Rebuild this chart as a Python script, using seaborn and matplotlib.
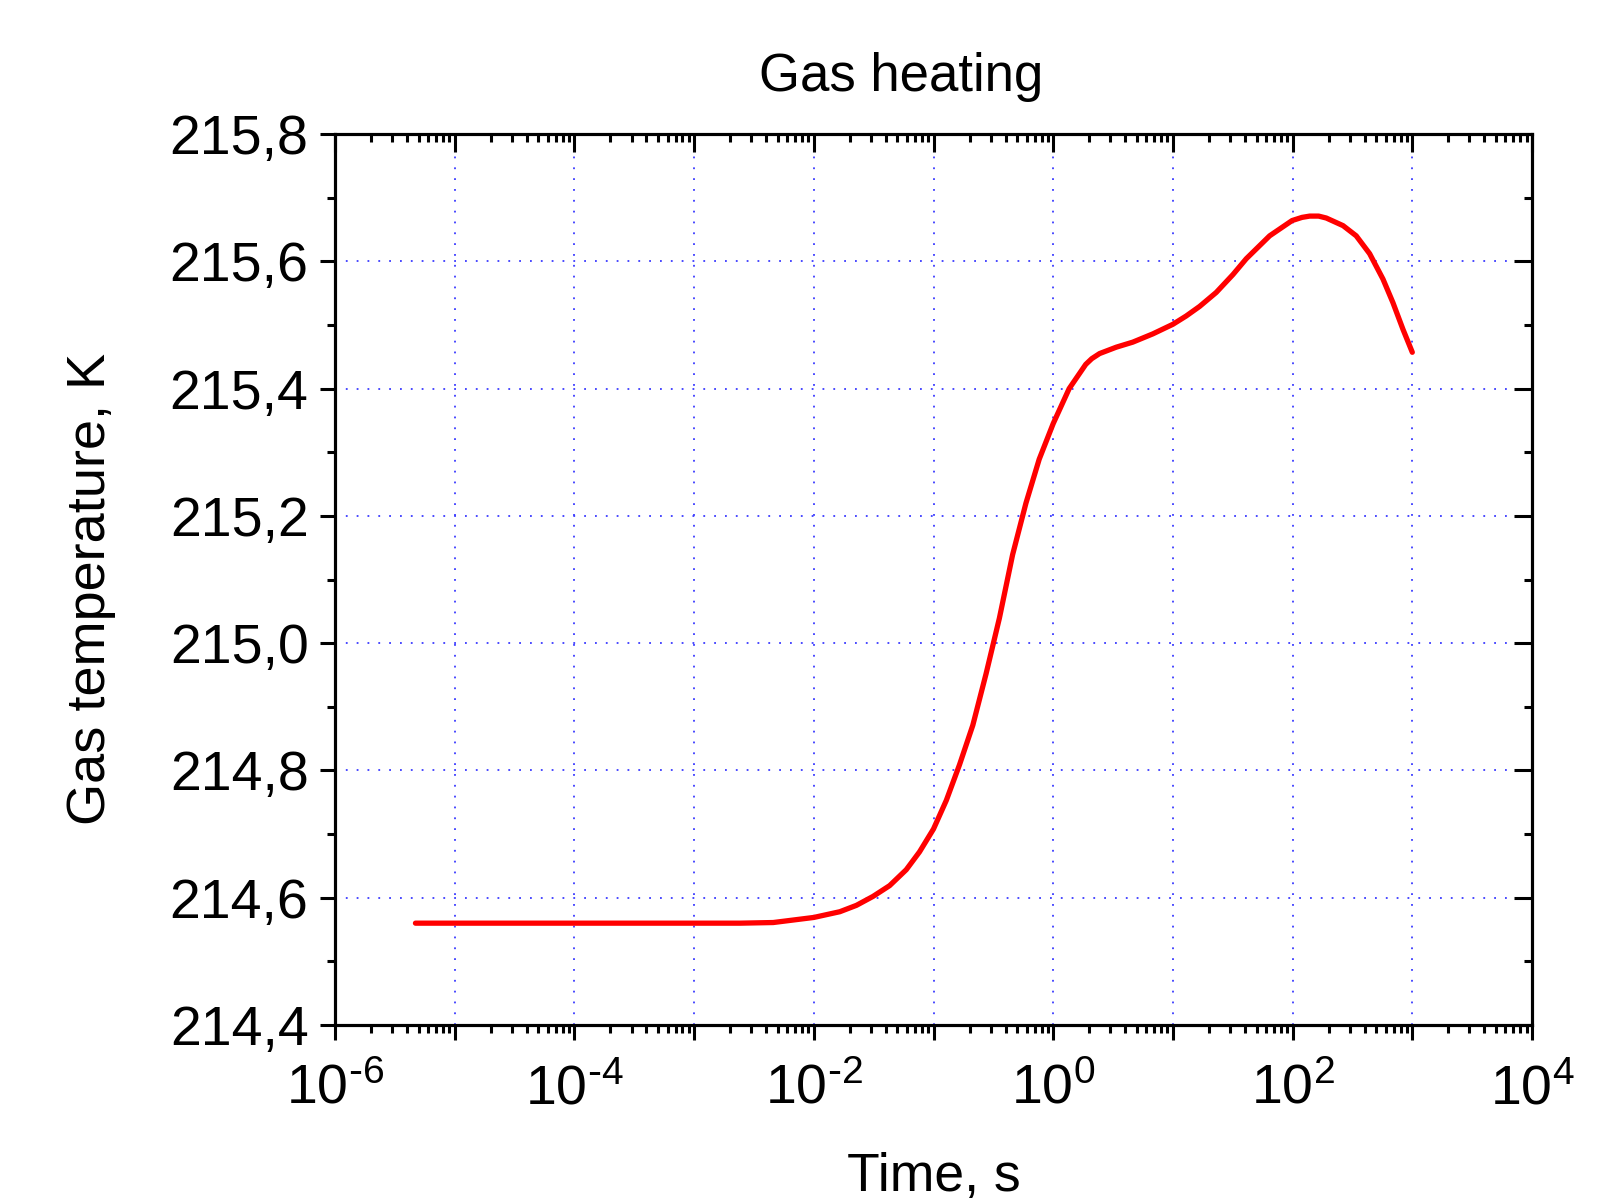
import matplotlib
matplotlib.use("Agg")
import matplotlib.pyplot as plt
import matplotlib.ticker as mticker
import numpy as np
import pandas as pd
import seaborn as sns

# ---- data ----
time_s = [4.7e-6, 1e-5, 1e-4, 1e-3, 2.42e-3, 4.58e-3, 0.01, 0.0165, 0.0227, 0.0312,
          0.043, 0.0592, 0.0764, 0.1, 0.128, 0.165, 0.213, 0.275, 0.355, 0.458,
          0.592, 0.764, 1.0, 1.36, 1.87, 2.1, 2.44, 3.36, 4.63, 6.81, 10.0,
          12.9, 16.7, 23.0, 31.7, 41.0, 64.3, 99.0, 120.0, 139.0, 165.0, 191.0, 264.0,
          340.0, 440.0, 569.0, 689.0, 836.0, 1000.0]
gas_temp_K = [214.560, 214.560, 214.560, 214.560, 214.560, 214.561, 214.569, 214.578, 214.588, 214.602,
              214.619, 214.644, 214.672, 214.708, 214.753, 214.809, 214.871, 214.952, 215.039, 215.139,
              215.220, 215.289, 215.345, 215.400, 215.438, 215.447, 215.455, 215.465, 215.473, 215.486, 215.501,
              215.514, 215.529, 215.551, 215.579, 215.604, 215.640, 215.664, 215.669, 215.671, 215.671, 215.668, 215.656,
              215.640, 215.612, 215.572, 215.535, 215.493, 215.457]

title = "Gas heating"
x_label = "Time, s"
y_label = "Gas temperature, K"
y_ticks = [214.4, 214.6, 214.8, 215.0, 215.2, 215.4, 215.6, 215.8]

sns.set_theme(style="ticks")
plt.rcParams["font.family"] = ["Liberation Sans", "DejaVu Sans"]
plt.rcParams["mathtext.default"] = "regular"
plt.rcParams["axes.unicode_minus"] = False
for k in ("text.color", "axes.labelcolor", "xtick.color", "ytick.color", "axes.edgecolor"):
    plt.rcParams[k] = "black"

df = pd.DataFrame({"t": time_s, "T": gas_temp_K})

fig = plt.figure(figsize=(16.21, 12), dpi=100)
ax = fig.add_axes([335 / 1621, 1 - 1025 / 1200, (1532 - 335) / 1621, (1025 - 134) / 1200])

sns.lineplot(data=df, x="t", y="T", ax=ax, color="#ff0000", linewidth=3.8, sort=False)
for ln in ax.lines:
    ln.set_solid_joinstyle("round")
    ln.set_solid_capstyle("round")

ax.set_xscale("log")
ax.set_xlim(1e-6, 1e4)
ax.set_ylim(214.4, 215.8)

FS = 40
# major ticks at every decade, labels on even exponents only
ax.xaxis.set_major_locator(mticker.LogLocator(base=10, subs=(1.0,), numticks=20))
ax.xaxis.set_minor_locator(mticker.LogLocator(base=10, subs=np.arange(2, 10), numticks=20))


def xfmt(v, pos):
    e = int(round(np.log10(v)))
    if e % 2 == 0:
        if e < 0:
            return r"$\mathdefault{10^{\text{-}%d}}$" % (-e)
        return r"$\mathdefault{10^{%d}}$" % e
    return ""


ax.xaxis.set_major_formatter(mticker.FuncFormatter(xfmt))
ax.xaxis.set_minor_formatter(mticker.NullFormatter())
ax.yaxis.set_major_locator(mticker.FixedLocator(y_ticks))
ax.yaxis.set_minor_locator(mticker.MultipleLocator(0.1))
ax.yaxis.set_major_formatter(mticker.FuncFormatter(lambda v, p: f"{v:.1f}".replace(".", ",")))

for s in ax.spines.values():
    s.set_linewidth(2.2)
    s.set_color("black")
    s.set_visible(True)

ax.tick_params(which="major", direction="out", length=11, width=2.2, labelsize=FS,
               colors="black", top=False, right=False)
ax.tick_params(which="minor", direction="out", length=6, width=2.2, top=False, right=False)
ax.tick_params(axis="x", which="major", pad=17)
ax.tick_params(axis="y", which="major", pad=8)

ax.grid(True, which="major", color="#3a3aff", linestyle=(0, (1, 5)), linewidth=1.3)

# top and right axes with inward ticks
tx = ax.twiny()
tx.set_xscale("log")
tx.set_xlim(ax.get_xlim())
tx.xaxis.set_major_locator(mticker.LogLocator(base=10, subs=(1.0,), numticks=20))
tx.xaxis.set_minor_locator(mticker.LogLocator(base=10, subs=np.arange(2, 10), numticks=20))
tx.xaxis.set_major_formatter(mticker.NullFormatter())
tx.xaxis.set_minor_formatter(mticker.NullFormatter())
tx.tick_params(which="major", direction="in", length=13, width=2.2)
tx.tick_params(which="minor", direction="in", length=6, width=2.2)
tx.grid(False)

ty = ax.twinx()
ty.set_ylim(ax.get_ylim())
ty.yaxis.set_major_locator(mticker.FixedLocator(y_ticks))
ty.yaxis.set_minor_locator(mticker.MultipleLocator(0.1))
ty.yaxis.set_major_formatter(mticker.NullFormatter())
ty.tick_params(which="major", direction="in", length=13, width=2.2)
ty.tick_params(which="minor", direction="in", length=6, width=2.2)
ty.grid(False)
for a in (tx, ty):
    for s in a.spines.values():
        s.set_linewidth(2.2)

ax.set_xlabel(x_label, fontsize=38.5)
ax.set_ylabel(y_label, fontsize=39)
ax.xaxis.set_label_coords(0.5, -0.143)
ax.yaxis.set_label_coords(-0.183, 0.489)
ax.set_title(title, fontsize=38, x=0.473, y=1.0, pad=31)

fig.savefig("out.png", dpi=100, facecolor="white")
